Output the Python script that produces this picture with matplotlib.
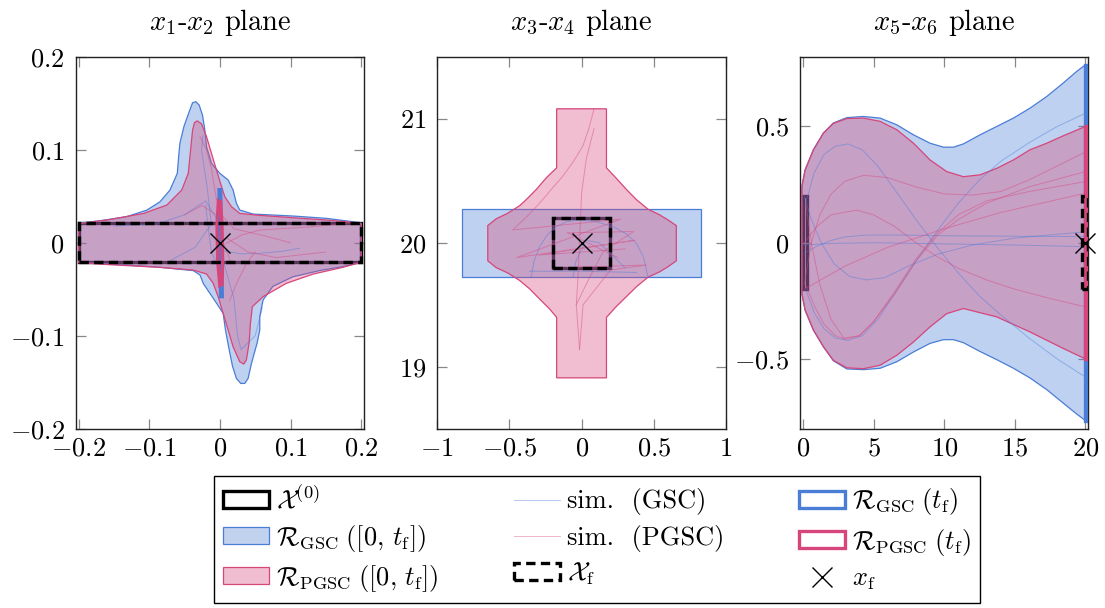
import matplotlib
matplotlib.use("Agg")
import matplotlib.pyplot as plt
from matplotlib.patches import Polygon, Rectangle, Patch
from matplotlib.lines import Line2D

plt.rcParams['font.family'] = 'serif'
plt.rcParams['font.serif'] = ['cmr10']
plt.rcParams['mathtext.fontset'] = 'cm'
plt.rcParams['axes.unicode_minus'] = False

blue = '#4a7dd6'
pink = '#d6467a'

# ---------------- x1-x2 plane ----------------
p1_xlim = (-0.204, 0.204)
p1_ylim = (-0.2, 0.2)
p1_xticks = [-0.2, -0.1, 0, 0.1, 0.2]
p1_xlabels = ['$-0.2$', '$-0.1$', '$0$', '$0.1$', '$0.2$']
p1_yticks = [-0.2, -0.1, 0, 0.1, 0.2]
p1_ylabels = ['$-0.2$', '$-0.1$', '$0$', '$0.1$', '$0.2$']
p1_x0 = (-0.2, -0.021, 0.4, 0.042)   # x, y, w, h
p1_xf = (-0.2, -0.021, 0.4, 0.042)
p1_gsc_all = [(-0.2, 0.021), (-0.169, 0.0237), (-0.132, 0.028), (-0.1035, 0.035), (-0.0847, 0.044),
              (-0.0706, 0.0566), (-0.0602, 0.0746), (-0.0583, 0.0925), (-0.0565, 0.107), (-0.0508, 0.125),
              (-0.0433, 0.141), (-0.0386, 0.1505), (-0.0339, 0.1516), (-0.0292, 0.148), (-0.0245, 0.137),
              (-0.0212, 0.121), (-0.0188, 0.103), (-0.0118, 0.0853), (0.0, 0.0746), (0.0118, 0.0674),
              (0.0188, 0.0566), (0.0235, 0.0423), (0.0282, 0.0351), (0.047, 0.0308), (0.1035, 0.0287),
              (0.1506, 0.0262), (0.188, 0.0226), (0.2, 0.021),
              (0.2, -0.021), (0.179, -0.025), (0.141, -0.030), (0.1035, -0.0366), (0.075, -0.047),
              (0.0612, -0.0616), (0.0565, -0.0796), (0.0565, -0.094), (0.0527, -0.108), (0.0447, -0.130),
              (0.04, -0.146), (0.0353, -0.1513), (0.0296, -0.1513), (0.0235, -0.146), (0.018, -0.133),
              (0.0132, -0.115), (0.008, -0.094), (0.0047, -0.076), (-0.0047, -0.065), (-0.014, -0.0545),
              (-0.0235, -0.0437), (-0.028, -0.0348), (-0.0376, -0.030), (-0.0847, -0.0265),
              (-0.1317, -0.024), (-0.2, -0.021)]
p1_pgsc_all = [(-0.2, 0.0204), (-0.155, 0.025), (-0.108, 0.0315), (-0.075, 0.0405), (-0.054, 0.0566),
               (-0.0447, 0.0746), (-0.0414, 0.0996), (-0.0386, 0.121), (-0.036, 0.129), (-0.032, 0.131),
               (-0.026, 0.128), (-0.0188, 0.114), (-0.0118, 0.096), (-0.0047, 0.078), (0.001, 0.0638),
               (0.007, 0.0495), (0.0165, 0.0387), (0.0282, 0.0315), (0.0565, 0.0294), (0.1035, 0.0269),
               (0.1506, 0.0244), (0.188, 0.0219), (0.2, 0.0204),
               (0.2, -0.021), (0.174, -0.0265), (0.132, -0.0337), (0.094, -0.0437), (0.0612, -0.058),
               (0.046, -0.0688), (0.0433, -0.0867), (0.0414, -0.108), (0.0376, -0.126), (0.0339, -0.1305),
               (0.0282, -0.128), (0.0188, -0.112), (0.0118, -0.094), (0.0047, -0.076), (-0.0024, -0.058),
               (-0.0094, -0.0437), (-0.0188, -0.0337), (-0.0376, -0.0294), (-0.0847, -0.0265),
               (-0.155, -0.0237), (-0.2, -0.0215)]
p1_gsc_tf = [(-0.0012, 0.057), (0.0012, 0.057), (0.0035, -0.058), (0.0011, -0.058)]
p1_pgsc_tf = [(-0.002, 0.045), (0.001, 0.044), (0.003, 0.02), (0.004, -0.02), (0.003, -0.045),
              (0.0, -0.046), (-0.003, -0.02), (-0.004, 0.02)]
p1_sim_gsc = [
    [(-0.07, -0.019), (-0.035, -0.005), (-0.012, 0.02), (-0.018, 0.06), (-0.026, 0.1), (-0.024, 0.115)],
    [(-0.15, 0.018), (-0.09, 0.02), (-0.05, 0.03), (-0.02, 0.045), (0.0, 0.02)],
    [(0.0, -0.008), (0.03, -0.012), (0.056, -0.0115), (0.09, -0.009), (0.113, -0.006)],
    [(0.005, -0.02), (0.02, -0.06), (0.025, -0.1), (0.03, -0.115), (0.05, -0.1), (0.06, -0.07)],
    [(-0.02, 0.04), (-0.017, 0.02), (-0.012, -0.01), (0.0, -0.03)],
]
p1_sim_pgsc = [
    [(0.009, -0.0007), (0.03, 0.008), (0.056, 0.0136), (0.127, 0.017), (0.188, 0.0215)],
    [(0.01, 0.005), (0.04, -0.01), (0.08, -0.016), (0.15, -0.01)],
    [(-0.0047, 0.046), (-0.012, 0.08), (-0.019, 0.1), (-0.028, 0.114)],
    [(0.014, -0.062), (0.0235, -0.044), (0.038, -0.022), (0.05, -0.01)],
    [(-0.05, 0.03), (-0.025, 0.04), (-0.005, 0.03), (0.005, 0.0), (0.015, -0.02)],
    [(0.002, 0.03), (0.02, 0.015), (0.06, 0.008), (0.1, 0.0)],
]

# ---------------- x3-x4 plane ----------------
p2_xlim = (-1, 1)
p2_ylim = (18.5, 21.5)
p2_xticks = [-1, -0.5, 0, 0.5, 1]
p2_xlabels = ['$-1$', '$-0.5$', '$0$', '$0.5$', '$1$']
p2_yticks = [19, 20, 21]
p2_ylabels = ['$19$', '$20$', '$21$']
p2_x0 = (-0.2, 19.8, 0.4, 0.4)
p2_xf = (-0.2, 19.8, 0.4, 0.4)
p2_gsc_all = [(-0.83, 19.72), (0.83, 19.72), (0.83, 20.27), (-0.83, 20.27)]
p2_pgsc_all = [(-0.173, 21.08), (0.172, 21.08), (0.172, 20.604), (0.24, 20.52), (0.31, 20.43),
               (0.38, 20.347), (0.46, 20.27), (0.54, 20.225), (0.598, 20.184), (0.656, 20.138),
               (0.656, 19.854), (0.598, 19.806), (0.54, 19.765), (0.46, 19.722), (0.38, 19.645),
               (0.31, 19.565), (0.24, 19.485), (0.172, 19.398), (0.172, 18.91),
               (-0.173, 18.91), (-0.173, 19.398), (-0.222, 19.466), (-0.292, 19.547), (-0.361, 19.629),
               (-0.43, 19.696), (-0.512, 19.756), (-0.593, 19.8), (-0.65, 19.854), (-0.65, 20.138),
               (-0.593, 20.192), (-0.512, 20.238), (-0.43, 20.298), (-0.384, 20.347), (-0.315, 20.428),
               (-0.245, 20.523), (-0.173, 20.604)]
p2_sim_gsc = [
    [(-0.35, 19.72), (-0.33, 19.85), (-0.29, 19.97), (-0.24, 20.06), (-0.176, 20.13), (-0.1, 20.17),
     (-0.014, 20.184), (0.1, 20.17), (0.218, 20.13), (0.31, 20.07), (0.38, 19.995), (0.43, 19.88),
     (0.46, 19.72)],
    [(-0.06, 19.72), (-0.04, 19.85), (-0.02, 19.9), (0.03, 20.02), (0.12, 20.0), (0.3, 19.8)],
    [(-0.36, 19.77), (0.0, 19.77), (0.38, 19.76)],
]
p2_sim_pgsc = [
    [(0.086, 21.08), (0.05, 20.92), (0.009, 20.78), (-0.06, 20.65), (-0.13, 20.537), (-0.21, 20.43),
     (-0.29, 20.32), (-0.38, 20.21), (-0.477, 20.103),
     (0.27, 20.19), (-0.45, 19.88), (0.37, 20.02), (-0.3, 19.9), (0.3, 19.95)],
    [(0.086, 20.92), (0.033, 20.68), (0.0, 20.4), (-0.025, 19.72), (-0.037, 19.5), (-0.014, 19.14)],
    [(-0.037, 19.5), (0.055, 19.72), (0.15, 19.93), (0.36, 20.09), (-0.1, 20.08), (0.25, 19.88)],
    [(-0.014, 19.14), (0.01, 19.5), (0.2, 19.78), (0.45, 19.82), (-0.1, 19.8)],
]

# ---------------- x5-x6 plane ----------------
p3_xlim = (-0.2, 20.2)
p3_ylim = (-0.8, 0.8)
p3_xticks = [0, 5, 10, 15, 20]
p3_xlabels = ['$0$', '$5$', '$10$', '$15$', '$20$']
p3_yticks = [-0.5, 0, 0.5]
p3_ylabels = ['$-0.5$', '$0$', '$0.5$']
p3_x0 = (0.0, -0.2, 0.3, 0.4)
p3_xf = (19.75, -0.2, 0.4, 0.4)
p3_gsc_all = [(-0.07, 0.241), (0.16, 0.313), (0.75, 0.40), (1.46, 0.472), (2.16, 0.515), (3.11, 0.538),
              (4.29, 0.543), (5.47, 0.536), (6.65, 0.507), (7.83, 0.464), (9.0, 0.428), (9.95, 0.411),
              (10.66, 0.411), (11.36, 0.425), (12.54, 0.464), (13.72, 0.5), (14.9, 0.536), (16.08, 0.579),
              (17.26, 0.629), (18.43, 0.687), (19.38, 0.737), (20.0, 0.765),
              (20.0, -0.765), (19.38, -0.737), (18.43, -0.69), (17.26, -0.632), (16.08, -0.582),
              (14.9, -0.54), (13.72, -0.503), (12.54, -0.468), (11.36, -0.43), (10.66, -0.417),
              (9.95, -0.417), (9.0, -0.433), (7.83, -0.47), (6.65, -0.512), (5.47, -0.54), (4.29, -0.546),
              (3.11, -0.543), (2.16, -0.508), (1.46, -0.448), (0.75, -0.376), (0.16, -0.29), (-0.07, -0.218)]
p3_pgsc_all = [(-0.07, 0.241), (0.16, 0.313), (0.75, 0.40), (1.46, 0.472), (2.16, 0.513), (3.11, 0.534),
               (4.29, 0.536), (5.47, 0.522), (6.65, 0.486), (7.83, 0.428), (9.0, 0.356), (10.18, 0.306),
               (11.36, 0.284), (12.54, 0.292), (13.72, 0.32), (14.9, 0.356), (16.08, 0.4), (17.26, 0.428),
               (18.43, 0.46), (20.0, 0.5),
               (20.0, -0.5), (18.43, -0.455), (16.08, -0.384), (13.72, -0.319), (11.36, -0.283),
               (10.18, -0.305), (9.0, -0.362), (7.83, -0.427), (6.65, -0.484), (5.47, -0.527),
               (4.29, -0.542), (3.11, -0.538), (2.16, -0.506), (1.46, -0.448), (0.75, -0.376),
               (0.16, -0.29), (-0.07, -0.218)]
p3_gsc_tf = [(19.97, 0.765), (20.03, 0.765), (20.03, -0.765), (19.97, -0.765)]
p3_pgsc_tf = [(19.97, 0.5), (20.03, 0.5), (20.03, -0.5), (19.97, -0.5)]
p3_sim_gsc = [
    [(0.2, 0.17), (0.8, 0.3), (1.5, 0.38), (2.3, 0.415), (3.2, 0.425), (4.2, 0.40), (5.3, 0.33),
     (6.6, 0.22), (8.0, 0.1), (9.5, -0.02), (11.0, -0.13), (12.5, -0.23), (14.0, -0.31), (16.0, -0.41),
     (18.0, -0.5), (20.0, -0.578)],
    [(0.2, -0.2), (0.8, -0.3), (1.5, -0.37), (2.3, -0.41), (3.2, -0.42), (4.2, -0.4), (5.3, -0.33),
     (6.6, -0.21), (8.0, -0.08), (9.5, 0.05), (11.0, 0.17), (12.5, 0.27), (14.0, 0.35), (16.0, 0.43),
     (18.0, 0.5), (20.0, 0.557)],
    [(0.1, -0.045), (1.0, -0.015), (2.0, 0.01), (3.0, 0.025), (4.5, 0.033), (7.0, 0.033), (10.0, 0.03),
     (15.0, 0.028), (20.0, 0.026)],
    [(0.1, -0.01), (2.0, -0.003), (5.0, 0.0), (10.0, -0.005), (15.0, -0.01), (20.0, -0.017)],
    [(0.1, 0.2), (0.6, 0.1), (1.3, 0.0), (2.2, -0.09), (3.3, -0.145), (4.5, -0.16), (5.8, -0.15),
     (7.5, -0.1), (9.5, -0.05), (12.0, -0.01), (15.0, 0.02), (20.0, 0.047)],
]
p3_sim_pgsc = [
    [(0.1, -0.18), (0.6, 0.0), (1.2, 0.12), (2.0, 0.21), (3.0, 0.265), (4.3, 0.29), (6.0, 0.28),
     (8.0, 0.24), (10.0, 0.21), (12.0, 0.205), (14.0, 0.22), (16.0, 0.27), (18.0, 0.33), (20.0, 0.39)],
    [(0.1, 0.0), (1.0, 0.07), (2.0, 0.12), (3.8, 0.14), (5.0, 0.12), (6.5, 0.07), (8.0, 0.0), (9.5, -0.06),
     (11.0, -0.11), (13.0, -0.16), (15.0, -0.2), (17.5, -0.24), (20.0, -0.276)],
    [(0.2, -0.18), (0.8, -0.27), (1.5, -0.35), (2.3, -0.40), (3.0, -0.415), (4.0, -0.4), (5.0, -0.34),
     (6.5, -0.22), (8.0, -0.08), (9.5, 0.03), (11.0, 0.1), (13.0, 0.17), (16.0, 0.24), (20.0, 0.306)],
    [(0.2, 0.17), (0.6, 0.0), (1.2, -0.18), (2.0, -0.33), (2.9, -0.41), (4.0, -0.4), (5.0, -0.34),
     (6.5, -0.21), (8.0, -0.07), (9.5, 0.04), (11.0, 0.12), (13.0, 0.18), (16.0, 0.22), (20.0, 0.263)],
    [(0.1, -0.2), (3.0, -0.1), (6.0, -0.02), (10.0, 0.06), (14.0, 0.13), (20.0, 0.213)],
]

panels = [
    dict(title='$x_1$-$x_2$ plane', xlim=p1_xlim, ylim=p1_ylim, xt=p1_xticks, xl=p1_xlabels,
         yt=p1_yticks, yl=p1_ylabels, x0=p1_x0, xf=p1_xf, gsc=p1_gsc_all, pgsc=p1_pgsc_all,
         gtf=p1_gsc_tf, ptf=p1_pgsc_tf, sg=p1_sim_gsc, sp=p1_sim_pgsc, target=(0, 0),
         pos=[0.0685, 0.2949, 0.2609, 0.6118]),
    dict(title='$x_3$-$x_4$ plane', xlim=p2_xlim, ylim=p2_ylim, xt=p2_xticks, xl=p2_xlabels,
         yt=p2_yticks, yl=p2_ylabels, x0=p2_x0, xf=p2_xf, gsc=p2_gsc_all, pgsc=p2_pgsc_all,
         gtf=None, ptf=None, sg=p2_sim_gsc, sp=p2_sim_pgsc, target=(0, 20),
         pos=[0.3957, 0.2949, 0.2613, 0.6118]),
    dict(title='$x_5$-$x_6$ plane', xlim=p3_xlim, ylim=p3_ylim, xt=p3_xticks, xl=p3_xlabels,
         yt=p3_yticks, yl=p3_ylabels, x0=p3_x0, xf=p3_xf, gsc=p3_gsc_all, pgsc=p3_pgsc_all,
         gtf=p3_gsc_tf, ptf=p3_pgsc_tf, sg=p3_sim_gsc, sp=p3_sim_pgsc, target=(20, 0),
         pos=[0.724, 0.2949, 0.2609, 0.6118]),
]

fig = plt.figure(figsize=(11.05, 6.08), dpi=100)

for p in panels:
    ax = fig.add_axes(p['pos'])
    x, y, w, h = p['x0']
    ax.add_patch(Rectangle((x, y), w, h, fill=False, ec='black', lw=2.4, zorder=1))
    ax.add_patch(Polygon(p['gsc'], closed=True, fc=blue, alpha=0.35, ec='none', zorder=2))
    ax.add_patch(Polygon(p['gsc'], closed=True, fill=False, ec=blue, lw=0.9, zorder=2.1))
    ax.add_patch(Polygon(p['pgsc'], closed=True, fc=pink, alpha=0.35, ec='none', zorder=3))
    ax.add_patch(Polygon(p['pgsc'], closed=True, fill=False, ec=pink, lw=0.9, zorder=3.1))
    for s in p['sg']:
        ax.plot([a for a, b in s], [b for a, b in s], color=blue, lw=0.7, alpha=0.45, zorder=4)
    for s in p['sp']:
        ax.plot([a for a, b in s], [b for a, b in s], color=pink, lw=0.7, alpha=0.45, zorder=4)
    if p['gtf'] is not None:
        ax.add_patch(Polygon(p['gtf'], closed=True, fill=False, ec=blue, lw=2.4, zorder=5))
    if p['ptf'] is not None:
        ax.add_patch(Polygon(p['ptf'], closed=True, fill=False, ec=pink, lw=2.4, zorder=5.1))
    x, y, w, h = p['xf']
    ax.add_patch(Rectangle((x, y), w, h, fill=False, ec='black', lw=2.4,
                           linestyle=(0, (2.8, 1.6)), zorder=6))
    ax.plot([p['target'][0]], [p['target'][1]], marker='x', color='black', ms=14, mew=1.0,
            linestyle='none', zorder=7, clip_on=False)
    ax.set_xlim(p['xlim'])
    ax.set_ylim(p['ylim'])
    ax.set_xticks(p['xt'])
    ax.set_xticklabels(p['xl'])
    ax.set_yticks(p['yt'])
    ax.set_yticklabels(p['yl'])
    ax.tick_params(direction='in', top=True, right=True, length=7, width=0.9, color='#888888',
                   labelsize=19)
    ax.tick_params(axis='x', pad=6)
    ax.tick_params(axis='y', pad=8)
    for sp in ax.spines.values():
        sp.set_linewidth(1.0)
        sp.set_color('#222222')
    ax.set_title(p['title'], fontsize=20.5, pad=19)

handles = [
    Patch(fc='white', ec='black', lw=2.4),
    Patch(fc=(193 / 255, 210 / 255, 239 / 255), ec=blue, lw=0.9),
    Patch(fc=(240 / 255, 190 / 255, 208 / 255), ec=pink, lw=0.9),
    Line2D([], [], color=blue, lw=0.7, alpha=0.4),
    Line2D([], [], color=pink, lw=0.7, alpha=0.4),
    Patch(fc='white', ec='black', lw=2.4, linestyle=(0, (2.8, 1.6))),
    Patch(fc='white', ec=blue, lw=2.4),
    Patch(fc='white', ec=pink, lw=2.4),
    Line2D([], [], color='black', marker='x', ms=14, mew=1.0, linestyle='none'),
]
labels = [
    r'$\mathcal{X}^{(0)}$',
    r'$\mathcal{R}_{\mathrm{GSC}}\;\left([0,\,t_{\mathrm{f}}]\right)$',
    r'$\mathcal{R}_{\mathrm{PGSC}}\;\left([0,\,t_{\mathrm{f}}]\right)$',
    'sim.  (GSC)',
    'sim.  (PGSC)',
    r'$\mathcal{X}_{\mathrm{f}}$',
    r'$\mathcal{R}_{\mathrm{GSC}}\;(t_{\mathrm{f}})$',
    r'$\mathcal{R}_{\mathrm{PGSC}}\;(t_{\mathrm{f}})$',
    r'$x_{\mathrm{f}}$',
]
leg = fig.legend(handles, labels, ncol=3, loc='lower center', bbox_to_anchor=(0.5403, 0.008),
                 fontsize=19, frameon=True, fancybox=False, edgecolor='black', framealpha=1,
                 handlelength=1.75, handleheight=0.6, handletextpad=0.25, columnspacing=2.85,
                 labelspacing=0.35, borderpad=0.35, borderaxespad=0)
leg.get_frame().set_linewidth(1.0)

fig.savefig('out.png', dpi=100)
